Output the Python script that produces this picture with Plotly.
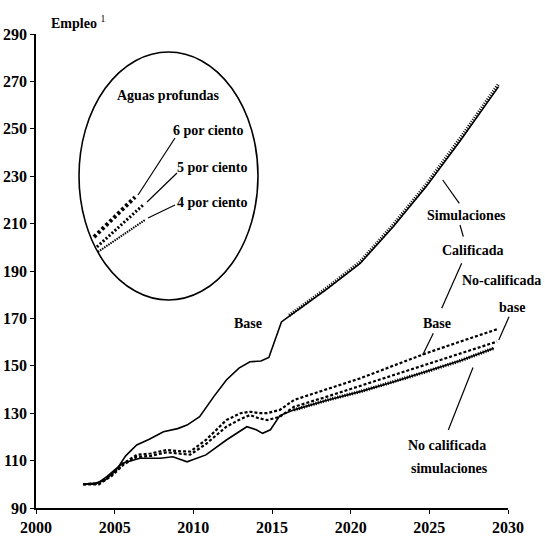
import plotly.graph_objects as go

# ---------------- data ----------------
calif_base_years = [2003.0, 2003.8, 2004.4, 2005.1, 2005.7, 2006.4, 2007.2, 2008.1, 2009.0, 2009.6,
                    2010.4, 2011.3, 2012.1, 2012.9, 2013.6, 2014.3, 2014.8, 2015.2, 2015.6, 2016.1,
                    2018.5, 2020.6, 2022.7, 2024.8, 2027.0, 2029.4]
calif_base_vals = [100, 100.5, 101.8, 106, 112, 116.6, 119, 122.2, 123.5, 125,
                   128.5, 137, 144, 149, 151.7, 152, 153.5, 161, 168.5, 171,
                   182.5, 193.2, 208.7, 225.6, 245.3, 267.8]

calif_sim_years = [2016.1, 2018.5, 2020.6, 2022.7, 2024.8, 2027.0, 2029.4]
calif_sim_vals = [171.3, 182.9, 193.8, 209.4, 226.4, 246.3, 268.8]

dash_years = [2003.0, 2004.0, 2004.8, 2005.6, 2006.4, 2007.3, 2008.3, 2009.0, 2009.8, 2010.8,
              2012.1, 2013.0, 2013.6, 2014.2, 2014.7, 2015.5, 2016.4, 2018.5, 2020.6, 2022.7,
              2024.8, 2027.0, 2029.3]
base_top_vals = [100, 100.5, 104, 109, 112.4, 113, 114.5, 114, 113.8, 118.7,
                 127.1, 130, 130.6, 130, 130, 131.4, 135.6, 140, 144.7, 150,
                 155.3, 160.3, 165.4]
nocalif_base_vals = [100, 100, 103.5, 108.5, 111.5, 112, 113.5, 113, 112.5, 117,
                     124.3, 127.5, 129.2, 127.8, 127.1, 128.5, 132.7, 137, 141.5, 145.8,
                     150.3, 155, 160.2]

nocalif_sim_years = [2003.0, 2003.8, 2004.5, 2005.5, 2006.6, 2007.9, 2008.7, 2009.6, 2010.8, 2012.1,
                     2013.4, 2014.0, 2014.4, 2014.9, 2015.5, 2016.4, 2018.5, 2020.6, 2022.7, 2024.8,
                     2027.0, 2029.1]
nocalif_sim_vals = [100, 100, 103.2, 108.9, 111, 111, 111.6, 109.5, 112.4, 118.7,
                    124.3, 123, 121.5, 123, 129, 131.4, 135.5, 139.1, 143.2, 147.5,
                    152.2, 157.4]

# inset (Aguas profundas) lines, in inset units
inset_x6 = [0.84, 3.13]
inset_y6 = [2.54, 4.15]
inset_x5 = [1.0, 3.58]
inset_y5 = [2.14, 3.83]
inset_x4 = [1.06, 3.69]
inset_y4 = [1.94, 3.23]

x_ticks = [2000, 2005, 2010, 2015, 2020, 2025, 2030]
y_ticks = [90, 110, 130, 150, 170, 190, 210, 230, 250, 270, 290]

# ---------------- layout helpers ----------------
W, H = 545, 540
L, R, T, B = 36, 508, 34, 508


def P(px, py):
    return (px - L) / (R - L), (B - py) / (B - T)


FONT = "Liberation Serif"
HATCH = "1px,1.5px"
DASH = "3px,2px"

fig = go.Figure()

fig.add_trace(go.Scatter(x=calif_base_years, y=calif_base_vals, mode="lines",
                         line=dict(color="black", width=1.6), hoverinfo="skip"))
fig.add_trace(go.Scatter(x=calif_sim_years, y=calif_sim_vals, mode="lines",
                         line=dict(color="black", width=3.5, dash=HATCH), hoverinfo="skip"))
fig.add_trace(go.Scatter(x=dash_years, y=base_top_vals, mode="lines",
                         line=dict(color="black", width=2.2, dash=DASH), hoverinfo="skip"))
fig.add_trace(go.Scatter(x=dash_years, y=nocalif_base_vals, mode="lines",
                         line=dict(color="black", width=2.2, dash=DASH), hoverinfo="skip"))
fig.add_trace(go.Scatter(x=nocalif_sim_years, y=nocalif_sim_vals, mode="lines",
                         line=dict(color="black", width=1.6), hoverinfo="skip"))
fig.add_trace(go.Scatter(x=nocalif_sim_years[15:], y=nocalif_sim_vals[15:], mode="lines",
                         line=dict(color="black", width=3.5, dash=HATCH), hoverinfo="skip"))

# inset lines
fig.add_trace(go.Scatter(x=inset_x6, y=inset_y6, mode="lines", xaxis="x2", yaxis="y2",
                         line=dict(color="black", width=4, dash="3px,2.5px"), hoverinfo="skip"))
fig.add_trace(go.Scatter(x=inset_x5, y=inset_y5, mode="lines", xaxis="x2", yaxis="y2",
                         line=dict(color="black", width=3, dash="2px,2px"), hoverinfo="skip"))
fig.add_trace(go.Scatter(x=inset_x4, y=inset_y4, mode="lines", xaxis="x2", yaxis="y2",
                         line=dict(color="black", width=2, dash="1.5px,1px"), hoverinfo="skip"))

# ellipse
ex0, ey1 = P(79, 52)
ex1, ey0 = P(258, 300)
shapes = [dict(type="circle", xref="paper", yref="paper", x0=ex0, x1=ex1, y0=ey0, y1=ey1,
               line=dict(color="black", width=1.6), layer="above")]

leaders = [((138, 195), (175, 138)), ((147, 202), (177, 173)), ((148, 218), (175, 205)),
           ((442.7, 180), (459.3, 203.3)), ((460, 225), (463.3, 236.7)),
           ((461.7, 263.3), (441.7, 308.3)), ((433.3, 333.3), (422.7, 355)),
           ((509, 316.7), (498.8, 340)), ((473, 367.5), (448.3, 430))]
for (a, b) in leaders:
    x0, y0 = P(*a)
    x1, y1 = P(*b)
    shapes.append(dict(type="line", xref="paper", yref="paper", x0=x0, y0=y0, x1=x1, y1=y1,
                       line=dict(color="black", width=1.2)))

# (text, px, py, anchor)
labels = [("Aguas profundas", 168, 95, "center"), ("6 por ciento", 208, 130, "center"),
          ("5 por ciento", 212, 167, "center"), ("4 por ciento", 212, 202, "center"),
          ("Base", 248, 323, "center"), ("Simulaciones", 466, 215, "center"),
          ("Calificada", 472, 250, "center"), ("No-calificada", 543, 280, "right"),
          ("base", 512, 307, "center"), ("Base", 437, 323, "center"),
          ("No calificada", 447, 445, "center"), ("simulaciones", 449, 468, "center")]
annotations = []
for (t, px, py, anc) in labels:
    x, y = P(px, py)
    annotations.append(dict(text="<b>" + t + "</b>", x=x, y=y, xref="paper", yref="paper",
                            showarrow=False, xanchor=anc, yanchor="middle",
                            font=dict(family=FONT, size=14, color="black")))
x, y = P(49, 22)
annotations.append(dict(text="<b>Empleo</b> <sup>1</sup>", x=x, y=y, xref="paper", yref="paper",
                        showarrow=False, xanchor="left", yanchor="middle",
                        font=dict(family=FONT, size=14, color="black")))

ix0, iy0 = P(79, 300)
ix1, iy1 = P(258, 52)

axis_common = dict(showgrid=False, zeroline=False, showline=True, linecolor="black", linewidth=1.5,
                   ticks="outside", ticklen=4, tickcolor="black", automargin=False,
                   tickfont=dict(family=FONT, size=16, color="black"))

fig.update_layout(
    width=W, height=H,
    margin=dict(l=L, r=W - R, t=T, b=H - B),
    paper_bgcolor="white", plot_bgcolor="white",
    showlegend=False,
    font=dict(family=FONT, size=14, color="black"),
    xaxis=dict(range=[2000, 2030], tickvals=x_ticks, ticktext=[f"<b>{v}</b>" for v in x_ticks],
               **axis_common),
    yaxis=dict(range=[90, 290], tickvals=y_ticks, ticktext=[f"<b>{v}</b>" for v in y_ticks],
               **axis_common),
    xaxis2=dict(domain=[ix0, ix1], range=[0, 10], visible=False, anchor="y2"),
    yaxis2=dict(domain=[iy0, iy1], range=[0, 10], visible=False, anchor="x2"),
    shapes=shapes,
    annotations=annotations,
)

fig.write_html("out.html", config={"displayModeBar": False},
               post_script="document.body.style.margin='0';document.body.style.overflow='hidden';")
